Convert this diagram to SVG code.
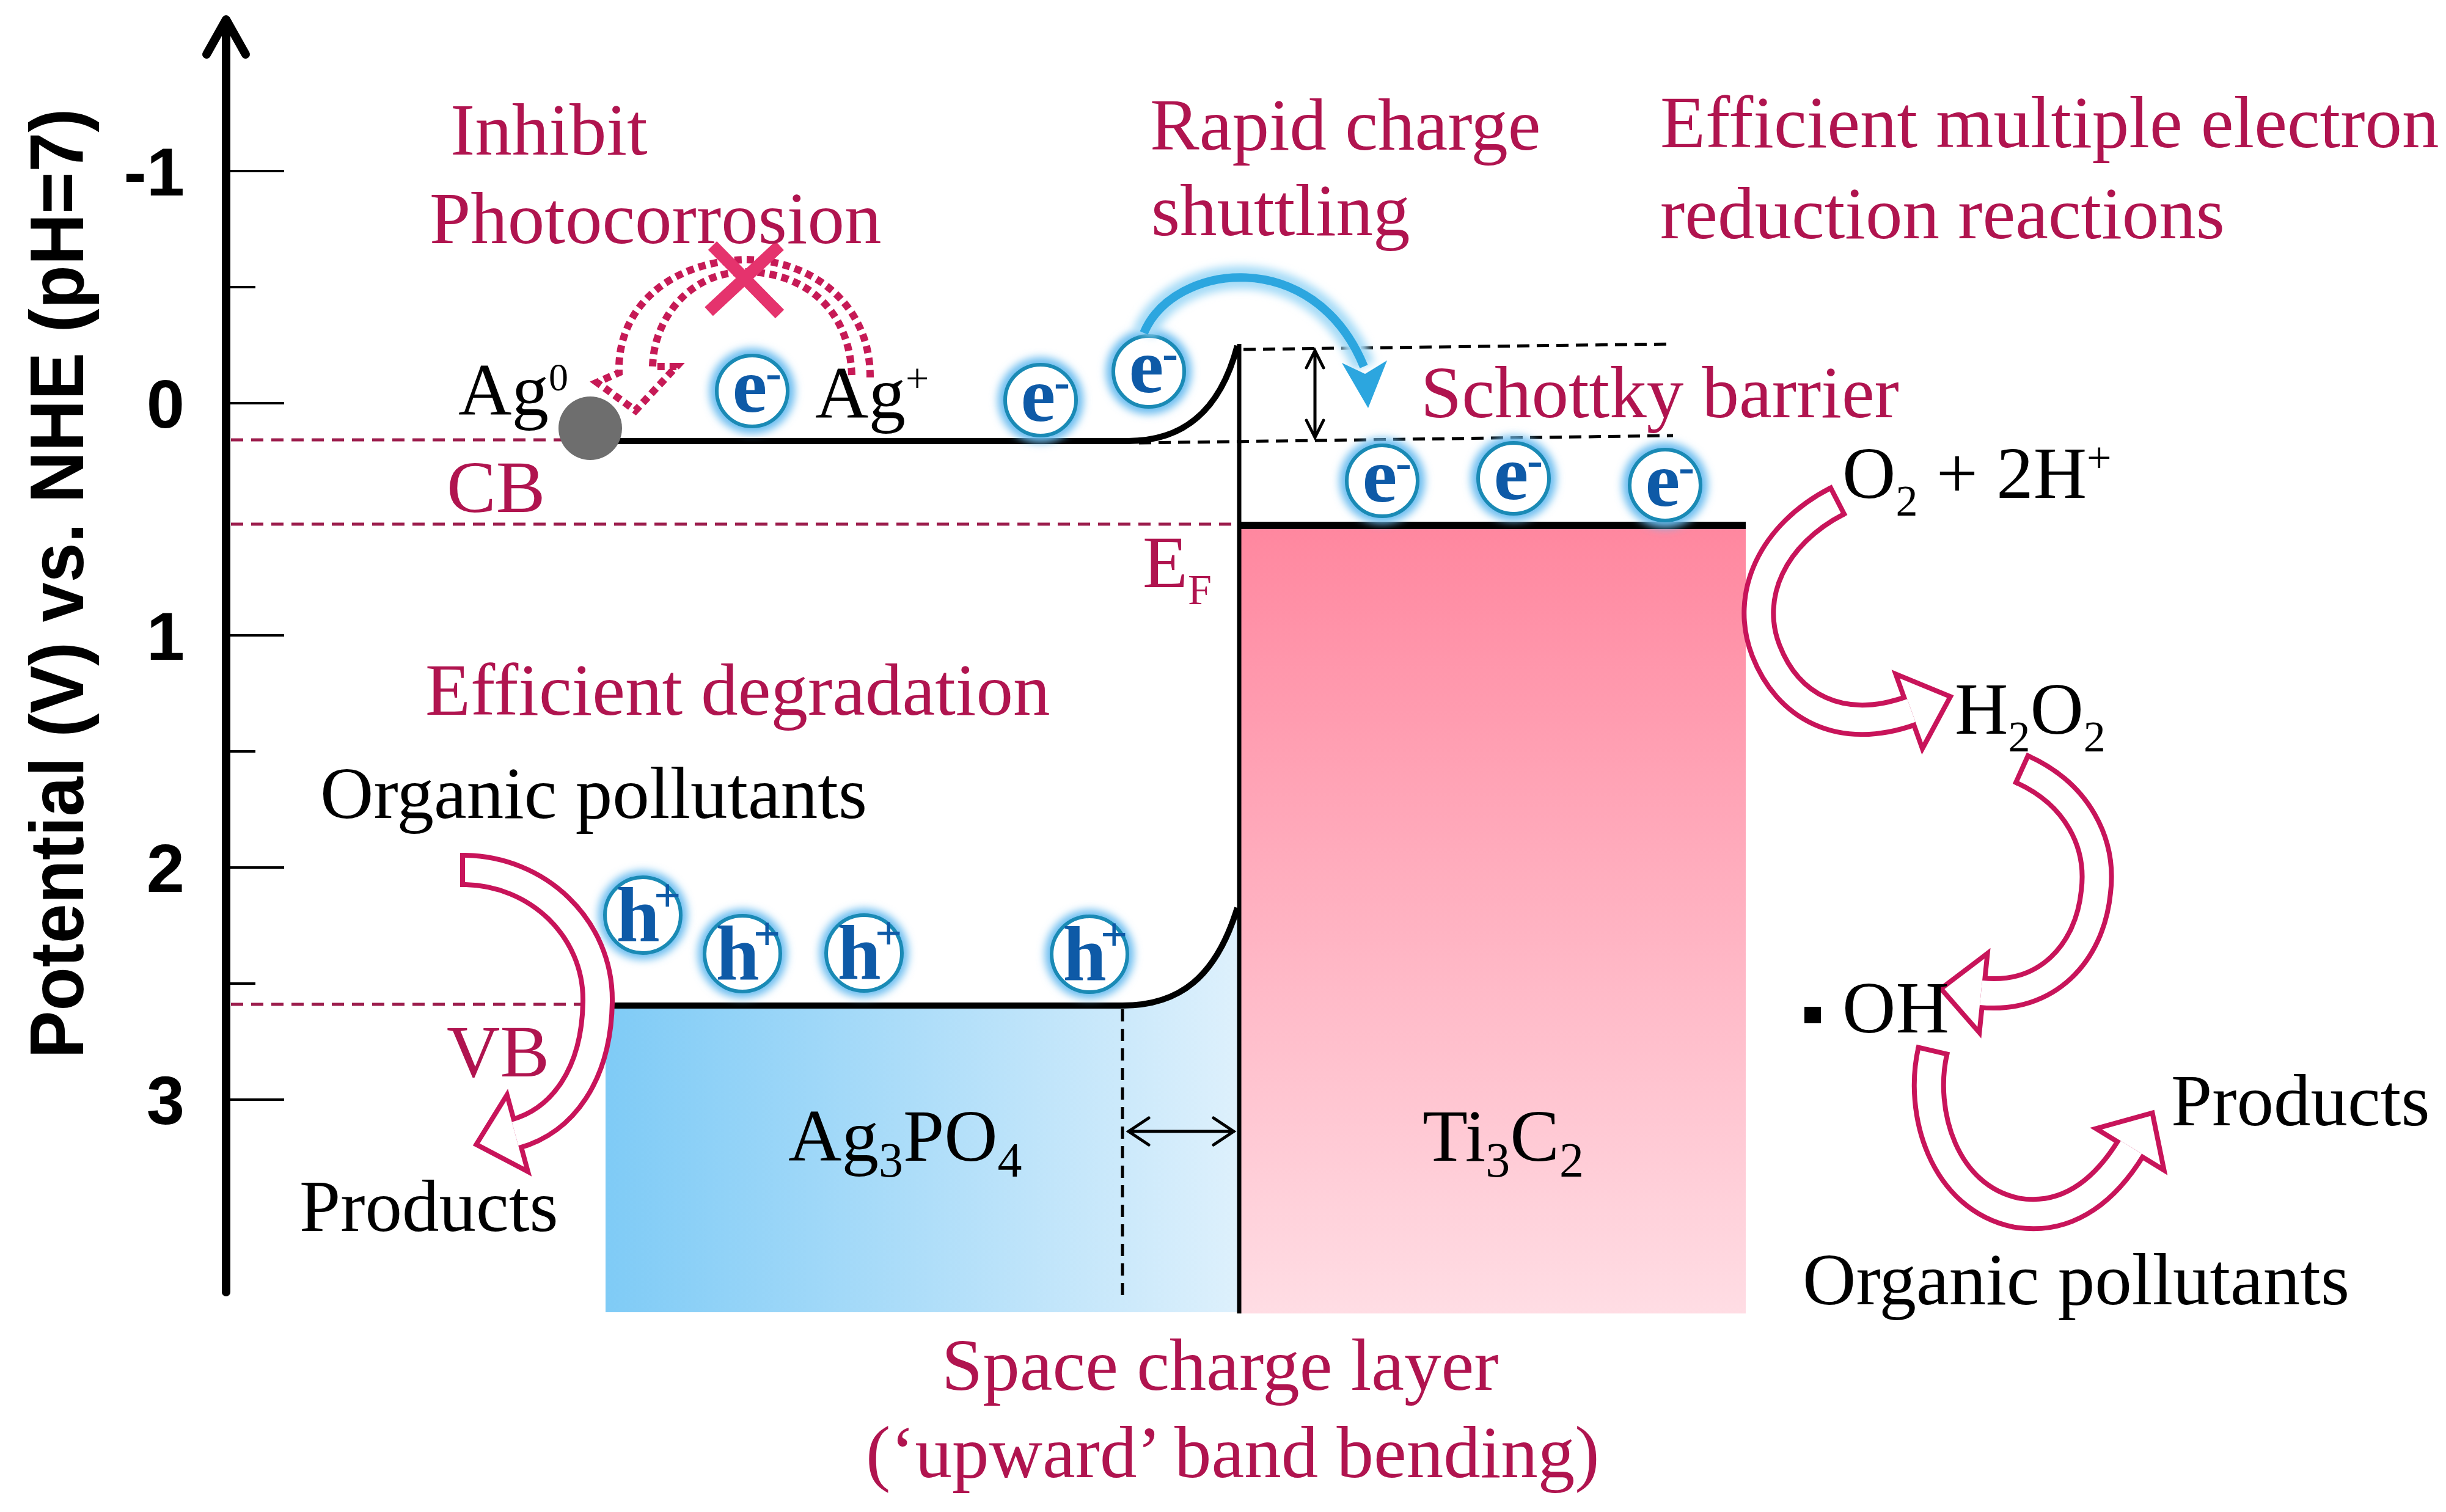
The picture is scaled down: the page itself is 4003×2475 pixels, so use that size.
<svg xmlns="http://www.w3.org/2000/svg" xmlns:xlink="http://www.w3.org/1999/xlink" width="4003" height="2475" viewBox="0 0 4003 2475">
<style>
.ax{stroke:#000;stroke-width:14;fill:none;stroke-linecap:round;stroke-linejoin:round}
.tick{stroke:#000;stroke-width:4}
.num{font-family:"Liberation Sans",Arial,sans-serif;font-weight:bold;font-size:112px;text-anchor:end;fill:#000}
.red{font-family:"Liberation Serif","Times New Roman",serif;font-size:121px;fill:#B0144F}
.blk{font-family:"Liberation Serif","Times New Roman",serif;font-size:121px;fill:#000}
.rdash{stroke:#9C1D4C;stroke-width:5;stroke-dasharray:20 13;fill:none}
.kdash{stroke:#000;stroke-width:5;stroke-dasharray:20 12;fill:none}
.band{stroke:#000;stroke-width:10;fill:none}
.ho{stroke:#C8145A;stroke-width:56;fill:none}
.hi{stroke:#fff;stroke-width:40;fill:none}
.hdo{fill:#C8145A;stroke:#C8145A;stroke-width:16;stroke-linejoin:miter}
.hdi{fill:#fff}
.cap{stroke:#C8145A;stroke-width:8}
.dbl{stroke:#000;stroke-width:5;fill:none;stroke-linecap:round}
.eg{font-family:"Liberation Serif","Times New Roman",serif;font-weight:bold;font-size:128px;fill:#0E5AA7;text-anchor:middle}
.sup{font-family:"Liberation Serif","Times New Roman",serif;font-weight:bold;font-size:78px;fill:#0E5AA7}
</style>
<defs>
<filter id="glow" x="-50%" y="-50%" width="200%" height="200%"><feGaussianBlur stdDeviation="7"/></filter>
<linearGradient id="gTi" x1="0" y1="0" x2="0" y2="1"><stop offset="0" stop-color="#FF879F"/><stop offset="1" stop-color="#FFDDE4"/></linearGradient>
<linearGradient id="gAg" x1="0" y1="0" x2="1" y2="0"><stop offset="0" stop-color="#7FCBF6"/><stop offset="1" stop-color="#DDF0FC"/></linearGradient>
<g id="eSym"><circle r="70" fill="#6CBDF0" filter="url(#glow)"/><circle r="58" fill="#fff" stroke="#1A8AB5" stroke-width="6"/><text class="eg" x="-4" y="34">e</text><text class="sup" x="22" y="-4">-</text></g>
<g id="hSym"><circle r="73" fill="#6CBDF0" filter="url(#glow)"/><circle r="62" fill="#fff" stroke="#1A8AB5" stroke-width="6"/><text class="eg" x="-8" y="42">h</text><text class="sup" x="18" y="-6">+</text></g>
</defs>
<rect width="4003" height="2475" fill="#fff"/>

<g id="axis">
<path class="ax" d="M370,2115 V34"/>
<path class="ax" d="M338,89 L370,32 L402,89"/>
<path class="tick" d="M370,280 H465 M370,660 H465 M370,1040 H465 M370,1420 H465 M370,1800 H465 M370,470 H418 M370,1230 H418 M370,1610 H418"/>
<text class="num" x="302" y="320">-1</text>
<text class="num" x="302" y="700">0</text>
<text class="num" x="302" y="1080">1</text>
<text class="num" x="302" y="1460">2</text>
<text class="num" x="302" y="1840">3</text>
<text transform="translate(136,955) rotate(-90)" text-anchor="middle" font-family="Liberation Sans, Arial, sans-serif" font-weight="bold" font-size="124" textLength="1555" lengthAdjust="spacingAndGlyphs">Potential (V) vs. NHE (pH=7)</text>
</g>

<g id="levels">
<path class="rdash" d="M378,720 H960"/>
<path class="rdash" d="M378,858 H2028"/>
<path class="rdash" d="M378,1644 H995"/>
</g>

<g id="Ag3PO4">
<path d="M991,1646 H1837 C1930,1646 1990,1600 2025,1486 V2148 H991 Z" fill="url(#gAg)"/>
<path class="band" d="M1000,722 H1846 C1930,722 1995,680 2025,566"/>
<path class="band" d="M995,1646 H1837 C1930,1646 1990,1600 2025,1486"/>
<path class="kdash" d="M1837,1652 V2125"/>
<text class="blk" x="1290" y="1900">Ag<tspan font-size="80" dy="26">3</tspan><tspan dy="-26">PO</tspan><tspan font-size="80" dy="26">4</tspan></text>
</g>

<g id="Ti3C2">
<rect x="2030" y="860" width="827" height="1290" fill="url(#gTi)"/>
<path d="M2028,860 H2857" stroke="#000" stroke-width="12"/>
<text class="blk" x="2328" y="1900">Ti<tspan font-size="80" dy="26">3</tspan><tspan dy="-26">C</tspan><tspan font-size="80" dy="26">2</tspan></text>
</g>

<path id="interface" d="M2028,563 V2150" stroke="#000" stroke-width="7"/>

<g id="schottky">
<path class="kdash" d="M2035,572 L2738,563"/>
<path class="kdash" d="M1864,725 L2738,713"/>
</g>

<g id="Ag0">
<circle cx="966" cy="701" r="52" fill="#6E6E6E"/>
<text class="blk" x="750" y="679">Ag<tspan font-size="64" dy="-40">0</tspan></text>
</g>
<g id="AgPlus"><text class="blk" x="1334" y="684">Ag<tspan font-size="68" dy="-42">+</tspan></text></g>

<g id="electrons">
<use xlink:href="#eSym" transform="translate(1231,640)"/>
<use xlink:href="#eSym" transform="translate(1703,655)"/>
<use xlink:href="#eSym" transform="translate(1880,608)"/>
<use xlink:href="#eSym" transform="translate(2262,787)"/>
<use xlink:href="#eSym" transform="translate(2477,783)"/>
<use xlink:href="#eSym" transform="translate(2725,794)"/>
</g>
<g id="holes">
<use xlink:href="#hSym" transform="translate(1052,1498)"/>
<use xlink:href="#hSym" transform="translate(1215,1561)"/>
<use xlink:href="#hSym" transform="translate(1414,1560)"/>
<use xlink:href="#hSym" transform="translate(1783,1562)"/>
</g>

<g id="connectors">
<g id="blue-arc">
<path d="M1872,545 C1920,430 2150,400 2232,600" stroke="#A6DBF7" stroke-width="38" fill="none" filter="url(#glow)"/>
<path d="M1872,545 C1920,430 2150,400 2232,600" stroke="#2CA6DF" stroke-width="14" fill="none"/>
<path d="M2196,594 L2239,668 L2270,590 L2234,612 Z" fill="#2CA6DF"/>
</g>
<g id="photocorrosion-arrow">
<path d="M1394,614 C1390,500 1310,445 1220,445 C1130,445 1070,520 1068,600 L1107,600 L1040,672 L977,626 L1013,610 C1010,500 1100,428 1220,425 C1330,425 1425,500 1424,618" stroke="#C61A56" stroke-width="12" stroke-dasharray="12 8" fill="none"/>
<path d="M1166,402 L1276,514 M1276,402 L1160,510" stroke="#E5336D" stroke-width="20"/>
</g>
<g id="sch-arrow" class="dbl">
<path d="M2152,574 V716 M2138,602 L2152,574 L2166,602 M2138,688 L2152,716 L2166,688"/>
</g>
<g id="scl-arrow" class="dbl">
<path d="M1847,1852 H2019 M1880,1830 L1847,1852 L1880,1874 M1986,1830 L2019,1852 L1986,1874"/>
</g>
<g id="arrow-left">
<path class="ho" d="M757,1424 C880,1424 980,1520 978,1640 C976,1760 920,1835 843,1856"/>
<polygon class="hdo" points="857.7,1910 785.1,1871.8 828.3,1802"/>
<path class="hi" d="M757,1424 C880,1424 980,1520 978,1640 C976,1760 920,1835 843,1856"/>
<polygon class="hdi" points="857.7,1910 785.1,1871.8 828.3,1802"/>
<path class="cap" d="M757,1396 V1452"/>
</g>
<g id="arrow-o2">
<path class="ho" d="M3007,820 C2900,875 2855,975 2890,1065 C2925,1155 3010,1205 3128,1163"/>
<polygon class="hdo" points="3146.8,1215.6 3186.3,1142.2 3109.2,1110.4"/>
<path class="hi" d="M3007,820 C2900,875 2855,975 2890,1065 C2925,1155 3010,1205 3128,1163"/>
<polygon class="hdi" points="3146.8,1215.6 3186.3,1142.2 3109.2,1110.4"/>
<path class="cap" d="M3019.8,844.9 L2994.2,795.1"/>
</g>
<g id="arrow-h2o2">
<path class="ho" d="M3309,1259 C3400,1300 3440,1380 3430,1460 C3420,1560 3350,1636 3242,1625"/>
<polygon class="hdo" points="3247.7,1569.3 3182.3,1618.9 3236.3,1680.7"/>
<path class="hi" d="M3309,1259 C3400,1300 3440,1380 3430,1460 C3420,1560 3350,1636 3242,1625"/>
<polygon class="hdi" points="3247.7,1569.3 3182.3,1618.9 3236.3,1680.7"/>
<path class="cap" d="M3297.5,1284.5 L3320.5,1233.5"/>
</g>
<g id="arrow-oh">
<path class="ho" d="M3163,1720 C3140,1820 3180,1960 3300,1985 C3390,2000 3450,1940 3488,1878"/>
<polygon class="hdo" points="3535.8,1907.3 3519.4,1826.8 3440.2,1848.7"/>
<path class="hi" d="M3163,1720 C3140,1820 3180,1960 3300,1985 C3390,2000 3450,1940 3488,1878"/>
<polygon class="hdi" points="3535.8,1907.3 3519.4,1826.8 3440.2,1848.7"/>
<path class="cap" d="M3190.3,1726.3 L3135.7,1713.7"/>
</g>
</g>

<g id="labels-red">
<text class="red" x="737" y="253">Inhibit</text>
<text class="red" x="703" y="398">Photocorrosion</text>
<text class="red" x="1882" y="245">Rapid charge</text>
<text class="red" x="1884" y="385">shuttling</text>
<text class="red" x="2717" y="241">Efficient multiple electron</text>
<text class="red" x="2717" y="390">reduction reactions</text>
<text class="red" x="2325" y="683">Schottky barrier</text>
<text class="red" x="731" y="838" font-size="112">CB</text>
<text class="red" x="1870" y="961" font-size="100">E<tspan font-size="70" dy="28">F</tspan></text>
<text class="red" x="696" y="1170">Efficient degradation</text>
<text class="red" x="731" y="1762" font-size="112">VB</text>
<text class="red" x="1541" y="2275">Space charge layer</text>
<text class="red" x="1417" y="2418">(‘upward’ band bending)</text>
</g>

<g id="labels-black">
<text class="blk" x="524" y="1339">Organic pollutants</text>
<text class="blk" x="490" y="2015">Products</text>
<text class="blk" x="3015" y="815">O<tspan font-size="72" dy="29">2</tspan><tspan dy="-29"> + 2H</tspan><tspan font-size="72" dy="-42">+</tspan></text>
<text class="blk" x="3199" y="1201">H<tspan font-size="72" dy="29">2</tspan><tspan dy="-29">O</tspan><tspan font-size="72" dy="29">2</tspan></text>
<rect x="2953" y="1648" width="27" height="27" fill="#000"/>
<text class="blk" x="3015" y="1690">OH</text>
<text class="blk" x="3553" y="1842">Products</text>
<text class="blk" x="2950" y="2135">Organic pollutants</text>
</g>
</svg>
